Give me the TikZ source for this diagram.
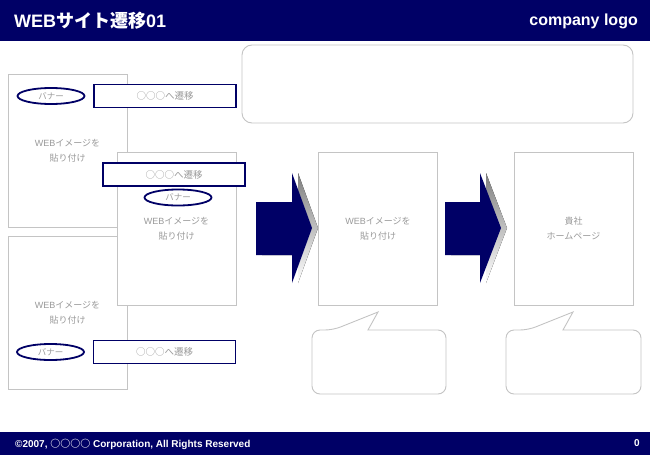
\documentclass[tikz,border=0pt]{standalone}
\usepackage{fontspec}
\setmainfont{Liberation Sans}
\newfontfamily\jp{Noto Sans CJK JP}
\usetikzlibrary{positioning,shapes.geometric}
\definecolor{navy}{HTML}{000066}
\definecolor{frame}{HTML}{C4C4C4}
\definecolor{note}{HTML}{999999}
\definecolor{shade}{HTML}{C8C8C8}
\tikzset{
  panel/.style={draw=frame, fill=white, line width=0.9pt, minimum width=119pt, minimum height=153pt, inner sep=0pt, font=\jp\fontsize{9}{15}\selectfont, text=note, align=center},
  banner/.style={draw=navy, ellipse, line width=1.8pt, fill=white, minimum width=67pt, minimum height=16pt, inner sep=0pt, font=\jp\fontsize{8.5}{10}\selectfont, text=note},
  link/.style={draw=navy, line width=1.8pt, fill=white, minimum width=142pt, minimum height=23pt, inner sep=0pt, font=\jp\fontsize{9.5}{11}\selectfont, text=note},
  bubble/.style={draw=frame, line width=0.9pt, fill=white},
  bartext/.style={text=white, font=\bfseries, inner sep=0pt}
}

\begin{document}
\begin{tikzpicture}[x=1pt, y=-1pt]
  \useasboundingbox (0,0) rectangle (650,455);

  % header and footer
  \fill[navy] (0,0) rectangle (650,41);
  \node[bartext, anchor=west, font=\bfseries\fontsize{18}{20}\selectfont] (title) at (14,21) {WEB{\jp サイト遷移}01};
  \node[bartext, anchor=east, font=\bfseries\fontsize{16}{18}\selectfont] (logo) at (638,21) {company logo};
  \fill[navy] (0,432) rectangle (650,455);
  \node[bartext, anchor=west, font=\bfseries\fontsize{10}{11}\selectfont] (copy) at (15,444) {©2007, {\jp ○○○○} Corporation, All Rights Reserved};
  \node[bartext, anchor=east, font=\bfseries\fontsize{10}{11}\selectfont] (page) at (640,443) {0};

  % left: pages with banners
  \node[panel] (pageA) at (67.5,151) {\textrm{WEB}イメージを\\貼り付け};
  \node[panel] (pageC) at (67.5,313) {\textrm{WEB}イメージを\\貼り付け};
  \node[panel] (pageB) at (176.5,228.5) {\textrm{WEB}イメージを\\貼り付け};

  \node[banner] (banA) at (51,96) {バナー};
  \node[link] (goA) at (165,96) {○○○へ遷移};
  \node[link] (goB) at (174,174.5) {○○○へ遷移};
  \node[banner] (banB) at (178,197.5) {バナー};
  \node[banner] (banC) at (50.5,352) {バナー};
  \node[link] (goC) at (164.5,352) {○○○へ遷移};

  % top memo
  \node[bubble, rounded corners=10pt, minimum width=391pt, minimum height=78pt] (memo) at (437.5,84) {};

  % flow
  \node[panel] (pageD) at (378,228.5) {\textrm{WEB}イメージを\\貼り付け};
  \node[panel] (pageE) at (573.5,228.5) {貴社\\ホームページ};

  \fill[shade, xshift=6pt] (256,202) -- (292,202) -- (292,173) -- (312,228) -- (292,283) -- (292,255) -- (256,255) -- cycle;
  \fill[navy] (256,202) -- (292,202) -- (292,173) -- (312,228) -- (292,283) -- (292,255) -- (256,255) -- cycle;
  \fill[shade, xshift=6pt] (445,202) -- (480,202) -- (480,173) -- (501,228) -- (480,283) -- (480,255) -- (445,255) -- cycle;
  \fill[navy] (445,202) -- (480,202) -- (480,173) -- (501,228) -- (480,283) -- (480,255) -- (445,255) -- cycle;

  % comments
  \draw[bubble, rounded corners=8pt] (333,330) [sharp corners] -- (378,312) -- (368,330) [rounded corners=8pt] -- (446,330) -- (446,394) -- (312,394) -- (312,330) -- cycle;
  \draw[bubble, rounded corners=8pt] (528,330) [sharp corners] -- (573,312) -- (563,330) [rounded corners=8pt] -- (641,330) -- (641,394) -- (506,394) -- (506,330) -- cycle;
\end{tikzpicture}
\end{document}
